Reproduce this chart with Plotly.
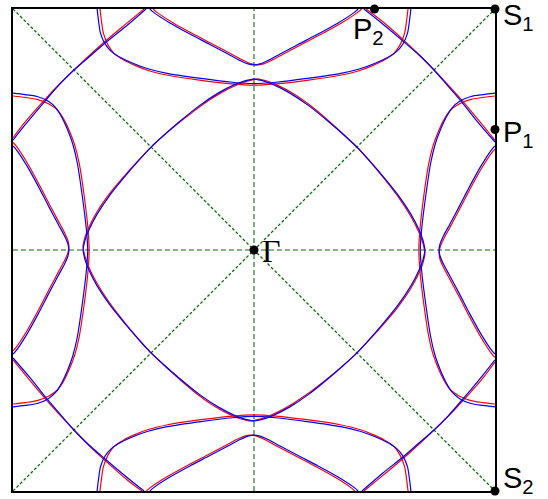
import plotly.graph_objects as go

# Fermi-surface sheets of the upper sector of the zone, k in units of pi/a.
# The other three sectors follow from the fourfold rotation.

# V-shaped sheet hanging from the top zone edge
blue_v_kx = [-0.432, -0.419, -0.349, -0.266, -0.183, -0.108, -0.058, -0.025, 0.0,
             0.025, 0.058, 0.108, 0.183, 0.266, 0.349, 0.419, 0.432]
blue_v_ky = [1.000, 0.988, 0.942, 0.896, 0.853, 0.813, 0.786, 0.772, 0.768,
             0.772, 0.786, 0.813, 0.853, 0.896, 0.942, 0.988, 1.000]
red_v_kx = [-0.418, -0.405, -0.335, -0.252, -0.169, -0.094, -0.044, -0.011, 0.014,
            0.039, 0.072, 0.122, 0.197, 0.280, 0.363, 0.433, 0.446]
red_v_ky = [1.000, 0.988, 0.942, 0.896, 0.853, 0.813, 0.786, 0.772, 0.768,
            0.772, 0.786, 0.813, 0.853, 0.896, 0.942, 0.988, 1.000]

# wide bowl around the top zone-edge midpoint
blue_bowl_kx = [-0.651, -0.645, -0.637, -0.618, -0.590, -0.550, -0.500, -0.440, -0.360,
                -0.220, -0.090, 0.0, 0.090, 0.220, 0.360, 0.440, 0.500, 0.550,
                0.590, 0.618, 0.637, 0.645, 0.651]
blue_bowl_ky = [1.000, 0.950, 0.900, 0.855, 0.822, 0.797, 0.774, 0.752, 0.733,
                0.712, 0.696, 0.690, 0.696, 0.712, 0.733, 0.752, 0.774, 0.797,
                0.822, 0.855, 0.900, 0.950, 1.000]
red_bowl_kx = [-0.639, -0.633, -0.625, -0.606, -0.580, -0.542, -0.494, -0.436, -0.358,
               -0.220, -0.090, 0.0, 0.090, 0.220, 0.358, 0.436, 0.494, 0.542,
               0.580, 0.606, 0.625, 0.633, 0.639]
red_bowl_ky = [1.000, 0.950, 0.900, 0.851, 0.815, 0.789, 0.766, 0.744, 0.725,
               0.704, 0.689, 0.684, 0.689, 0.704, 0.725, 0.744, 0.766, 0.789,
               0.815, 0.851, 0.900, 0.950, 1.000]

# sheet cutting the upper-left corner
blue_corner_kx = [-1.000, -0.950, -0.867, -0.805, -0.747, -0.680, -0.618, -0.535, -0.448]
blue_corner_ky = [0.456, 0.519, 0.618, 0.689, 0.747, 0.805, 0.859, 0.925, 1.000]
red_corner_kx = [-1.000, -0.953, -0.870, -0.806, -0.747, -0.682, -0.621, -0.540, -0.456]
red_corner_ky = [0.465, 0.527, 0.622, 0.690, 0.747, 0.808, 0.863, 0.931, 1.000]

# upper-left quarter of the pocket around Gamma
blue_arc_kx = [0.0, -0.041, -0.083, -0.149, -0.228, -0.311, -0.373, -0.427,
               -0.477, -0.531, -0.598, -0.651, -0.685, -0.701, -0.710]
blue_arc_ky = [0.710, 0.701, 0.685, 0.651, 0.598, 0.531, 0.477, 0.427,
               0.373, 0.311, 0.228, 0.149, 0.083, 0.041, 0.0]
red_arc_kx = [0.016, -0.025, -0.067, -0.134, -0.214, -0.299, -0.362, -0.417,
              -0.468, -0.524, -0.593, -0.648, -0.683, -0.700, -0.710]
red_arc_ky = [0.710, 0.702, 0.687, 0.654, 0.603, 0.538, 0.486, 0.437,
              0.384, 0.323, 0.242, 0.164, 0.099, 0.057, 0.016]

# high-symmetry points
point_names = ["Γ", "S<sub>1</sub>", "P<sub>1</sub>", "P<sub>2</sub>", "S<sub>2</sub>"]
point_kx = [0.0, 1.0, 1.0, 0.5, 1.0]
point_ky = [0.0, 1.0, 0.5, 1.0, -1.0]

# symmetry lines through Gamma
sym_lines = [([0, 0], [-1, 1], "5px,3px", 1.1),
             ([-1, 1], [0, 0], "5px,3px", 1.1),
             ([-1, 1], [-1, 1], "3px,2px", 1.3),
             ([-1, 1], [1, -1], "3px,2px", 1.3)]


def rotate(kx, ky, quarter):
    """Clockwise rotation by quarter * 90 degrees."""
    kx, ky = list(kx), list(ky)
    for _ in range(quarter):
        kx, ky = ky, [-x for x in kx]
    return kx, ky


fig = go.Figure()

GREEN = "#0a700a"
for xs, ys, dash, w in sym_lines:
    fig.add_trace(go.Scatter(x=xs, y=ys, mode="lines",
                             line=dict(color=GREEN, width=w, dash=dash),
                             hoverinfo="skip"))

sheets = [
    ("#ff0000", [(red_v_kx, red_v_ky), (red_bowl_kx, red_bowl_ky),
                 (red_corner_kx, red_corner_ky), (red_arc_kx, red_arc_ky)]),
    ("#0000ff", [(blue_v_kx, blue_v_ky), (blue_bowl_kx, blue_bowl_ky),
                 (blue_corner_kx, blue_corner_ky), (blue_arc_kx, blue_arc_ky)]),
]
for color, parts in sheets:
    for kx, ky in parts:
        for q in range(4):
            rx, ry = rotate(kx, ky, q)
            fig.add_trace(go.Scatter(x=rx, y=ry, mode="lines",
                                     line=dict(color=color, width=1.2,
                                               shape="spline", smoothing=0.8),
                                     hoverinfo="skip"))

fig.add_trace(go.Scatter(x=point_kx, y=point_ky, mode="markers",
                         marker=dict(color="black", size=9),
                         cliponaxis=False, hoverinfo="skip"))

label_style = {
    "Γ": dict(xshift=6, yshift=-1, font=dict(family="Liberation Serif", size=32)),
    "S<sub>1</sub>": dict(xshift=6, yshift=-8, font=dict(family="Liberation Sans", size=29)),
    "P<sub>1</sub>": dict(xshift=6, yshift=-4, font=dict(family="Liberation Sans", size=29)),
    "P<sub>2</sub>": dict(xshift=-24, yshift=-22, font=dict(family="Liberation Sans", size=29)),
    "S<sub>2</sub>": dict(xshift=6, yshift=11, font=dict(family="Liberation Sans", size=29)),
}
for name, kx, ky in zip(point_names, point_kx, point_ky):
    st = label_style[name]
    fig.add_annotation(x=kx, y=ky, text=name, showarrow=False,
                       xanchor="left", yanchor="middle",
                       xshift=st["xshift"], yshift=st["yshift"],
                       font=dict(color="black", **st["font"]))

axis = dict(range=[-1, 1], showgrid=False, zeroline=False, showticklabels=False,
            ticks="", showline=True, mirror=True, linecolor="black", linewidth=1.5)
fig.update_layout(width=548, height=499,
                  margin=dict(l=13, r=53, t=9, b=8),
                  plot_bgcolor="white", paper_bgcolor="white",
                  showlegend=False, xaxis=axis, yaxis=axis)

fig.write_html("out.html")
